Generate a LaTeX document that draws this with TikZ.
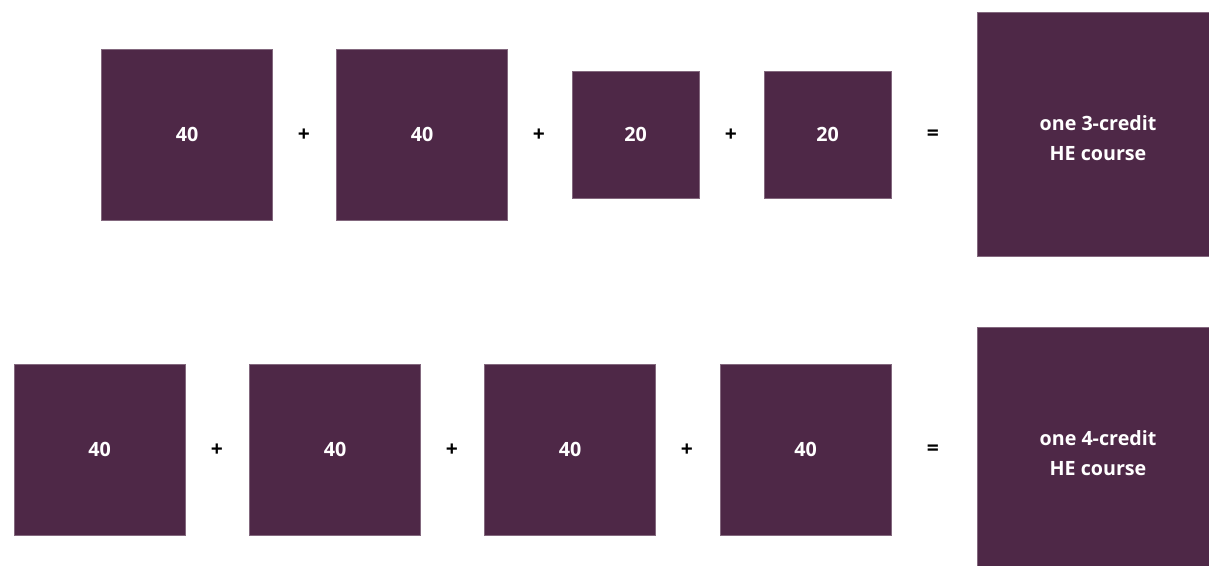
\documentclass[tikz,border=0pt]{standalone}
\usepackage{fontspec}
\setmainfont{Open Sans}
\usepackage{xcolor}
\definecolor{plum}{HTML}{4E2847}
\usetikzlibrary{positioning}

\begin{document}
\begin{tikzpicture}[x=0.02cm, y=-0.02cm,
    hours/.style={fill=plum, draw=plum!70!white, line width=0.3pt, inner sep=0pt,
        text=white, font=\bfseries\fontsize{11.2}{17.5}\selectfont, align=center},
    big/.style={hours, minimum width=171*0.02cm, minimum height=171*0.02cm},
    small/.style={hours, minimum width=127*0.02cm, minimum height=127*0.02cm},
    course/.style={hours, minimum width=242*0.02cm, minimum height=244*0.02cm, text depth=-2pt},
    sign/.style={font=\bfseries\fontsize{12}{14}\selectfont}]
    \useasboundingbox (0,0) rectangle (1209,565);

    % Top row: 40 + 40 + 20 + 20 = 3 credits
    \node[big]   (a1) at (187, 134.5) {40};
    \node[big]   (a2) at (422, 134.5) {40};
    \node[small] (a3) at (635.5, 134.5) {20};
    \node[small] (a4) at (827.5, 134.5) {20};
    \node[course] (a5) at (1098, 134) {};
    \node[hours, fill=none, draw=none] (t1) at (1098, 138) {one 3-credit\\HE course};
    \node[sign] (p1) at (304, 135) {+};
    \node[sign] (p2) at (539, 135) {+};
    \node[sign] (p3) at (731, 135) {+};
    \node[sign] (e1) at (933, 135) {=};

    % Bottom row: 40 + 40 + 40 + 40 = 4 credits
    \node[big] (b1) at (99.5, 449.5) {40};
    \node[big] (b2) at (335, 449.5) {40};
    \node[big] (b3) at (570, 449.5) {40};
    \node[big] (b4) at (805.5, 449.5) {40};
    \node[course] (b5) at (1098, 449) {};
    \node[hours, fill=none, draw=none] (t2) at (1098, 453) {one 4-credit\\HE course};
    \node[sign] (p4) at (217, 450) {+};
    \node[sign] (p5) at (452, 450) {+};
    \node[sign] (p6) at (687, 450) {+};
    \node[sign] (e2) at (933, 450) {=};
\end{tikzpicture}
\end{document}
